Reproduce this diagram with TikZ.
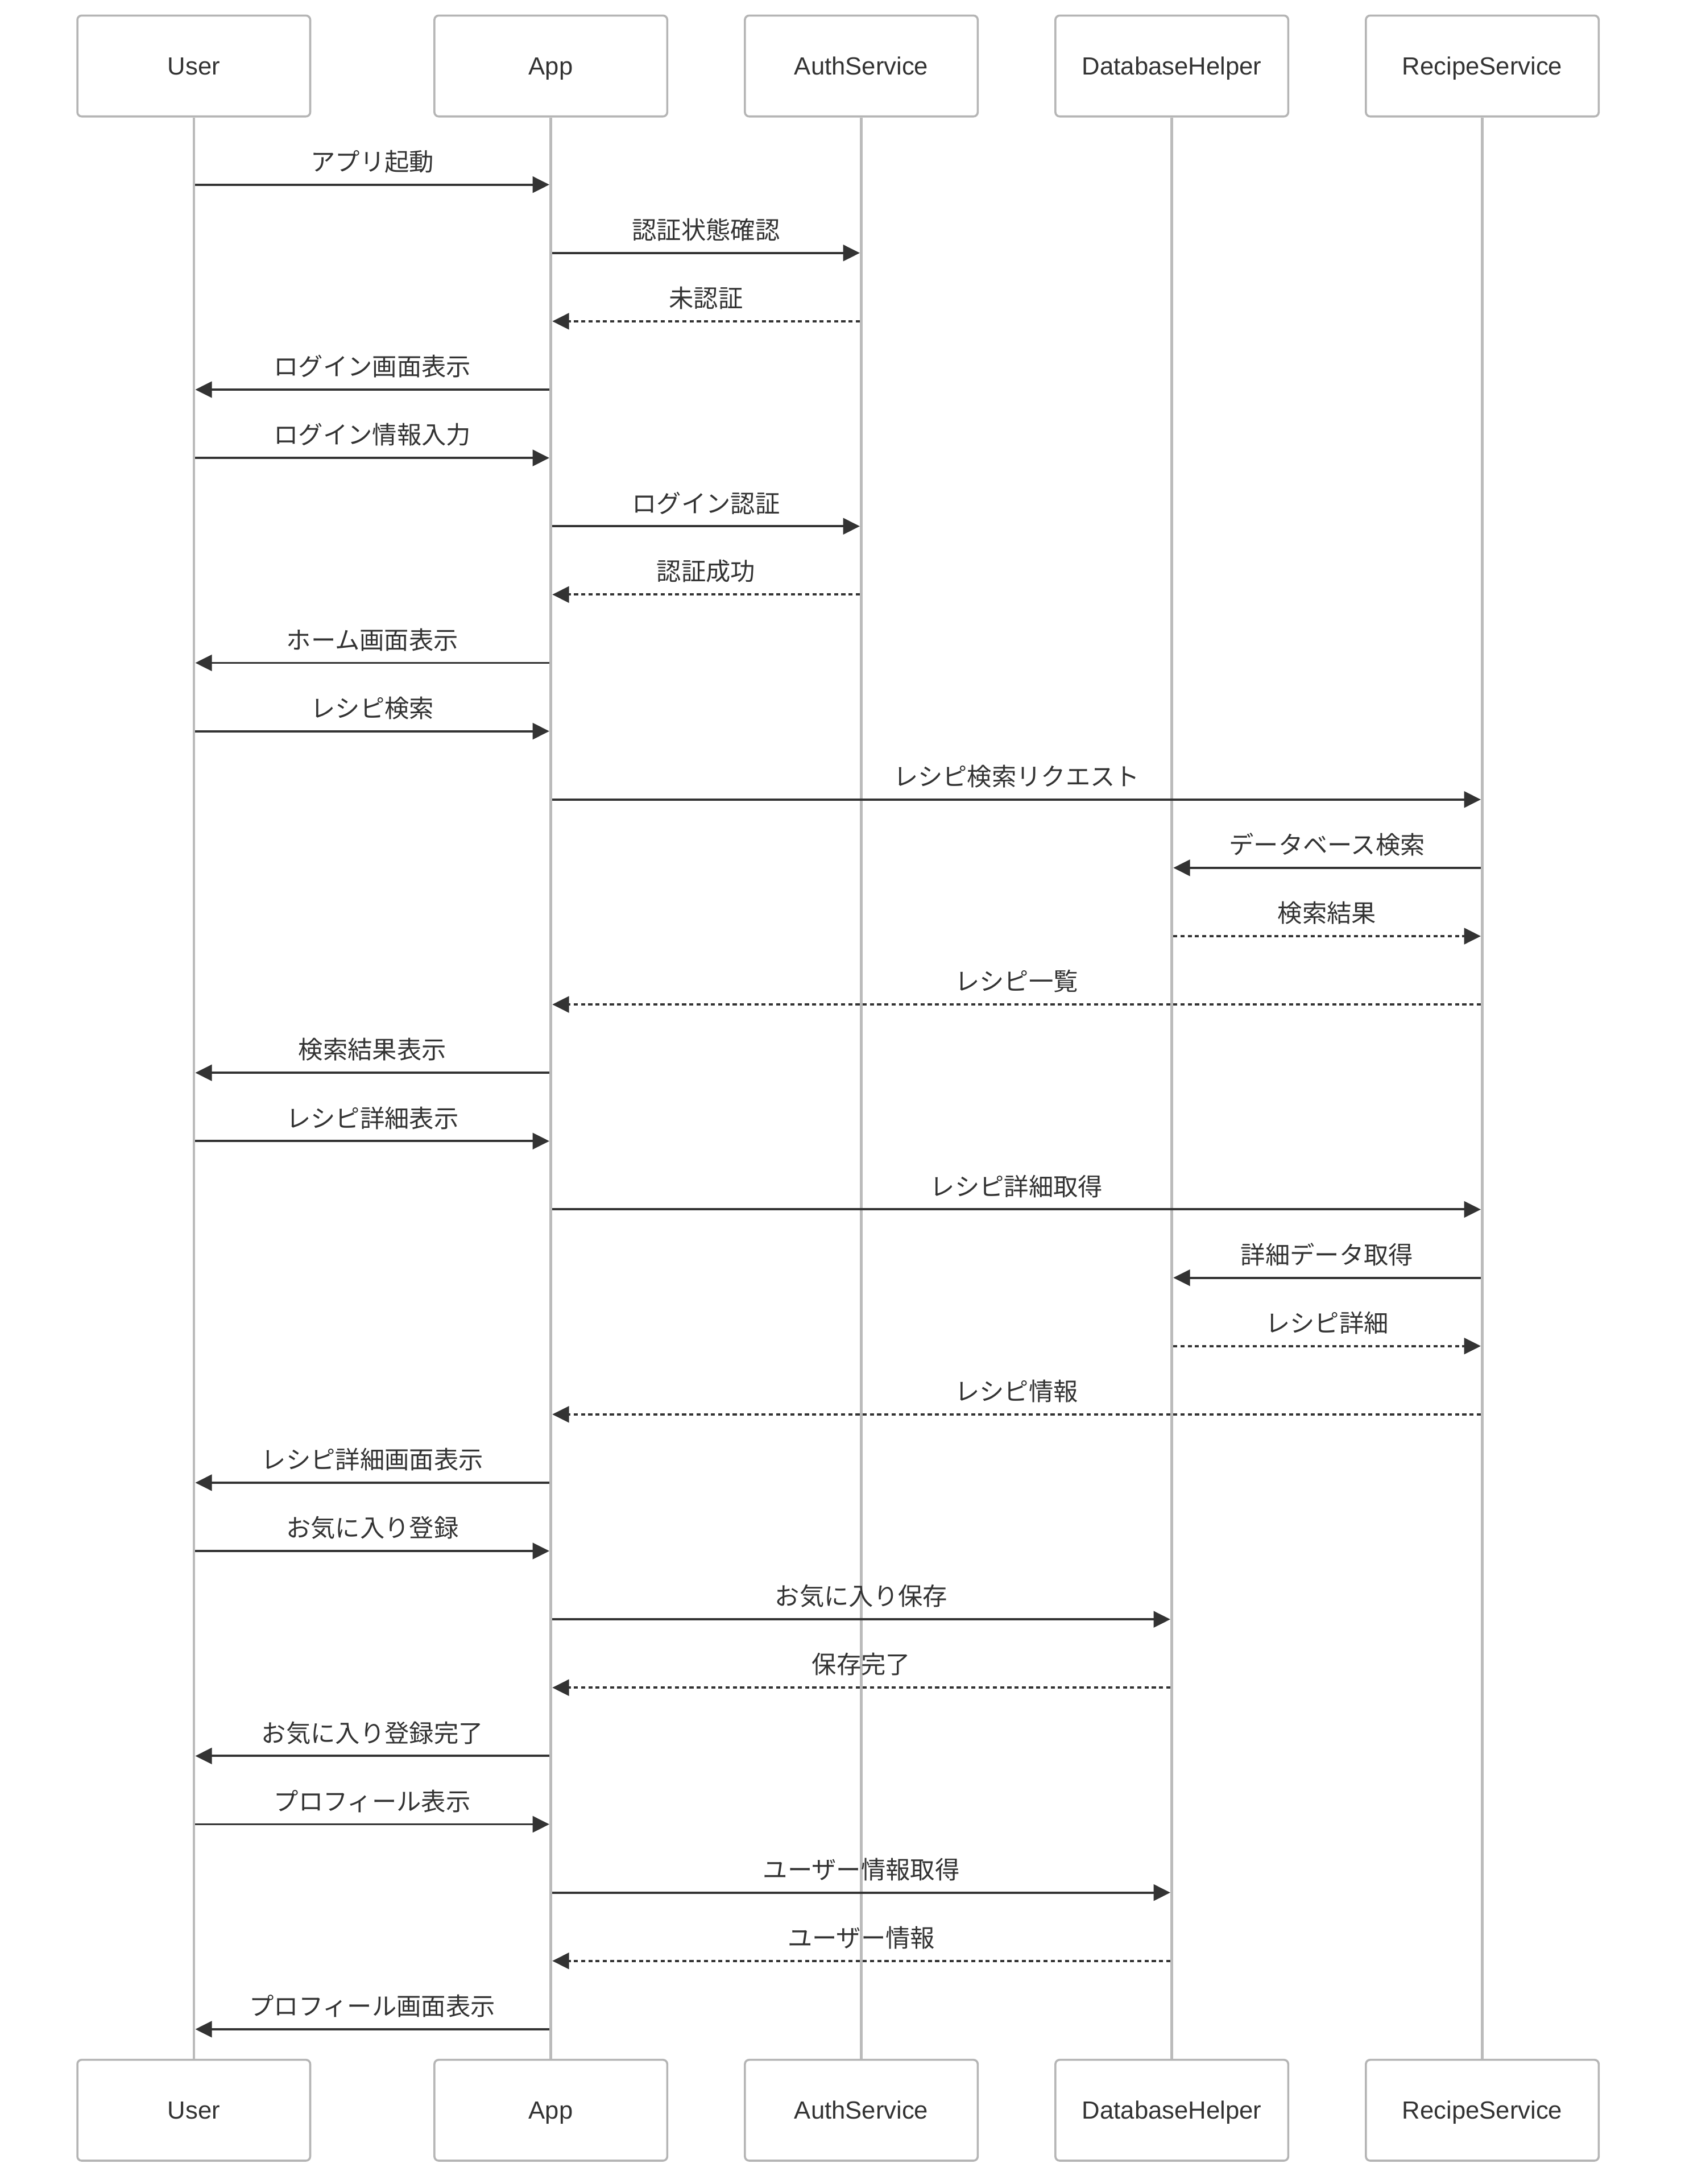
\documentclass[tikz,border=0pt]{standalone}
\usepackage{fontspec}
\setmainfont{Liberation Sans}
\newfontfamily\jpfont{Noto Sans CJK JP}
\usetikzlibrary{arrows.meta}
\definecolor{ink}{HTML}{333333}
\definecolor{boxgray}{HTML}{B5B5B5}
\definecolor{lifegray}{HTML}{BBBBBB}
\begin{document}
\begin{tikzpicture}[x=0.75pt,y=-0.75pt,
  actor/.style={draw=boxgray, line width=1.1pt, fill=white, rounded corners=2.3pt,
    minimum width=125.7pt, minimum height=54.45pt, inner sep=0pt,
    text height=9.6pt, text depth=0pt,
    font=\fontsize{13.4}{16}\selectfont, text=ink},
  life/.style={draw=lifegray, line width=1.4pt},
  msg/.style={draw=ink, line width=1.2pt, shorten <=0.8pt, shorten >=0.8pt,
    -{Triangle[length=9pt,width=8.7pt]}},
  reply/.style={msg, dash pattern=on 2.2pt off 1.7pt},
  lbl/.style={font=\jpfont\fontsize{13.3}{15}\selectfont, text=ink, inner sep=0pt}]
\useasboundingbox (0,0) rectangle (1210,1571.9);
% top actors
\node[actor] (uT) at (139.5,47.5) {User};
\node[actor] (aT) at (396.5,47.5) {App};
\node[actor] (sT) at (620,47.5) {AuthService};
\node[actor] (dT) at (843.5,47.5) {DatabaseHelper};
\node[actor] (rT) at (1067,47.5) {RecipeService};
% bottom actors
\node[actor] (uB) at (139.5,1518.8) {User};
\node[actor] (aB) at (396.5,1518.8) {App};
\node[actor] (sB) at (620,1518.8) {AuthService};
\node[actor] (dB) at (843.5,1518.8) {DatabaseHelper};
\node[actor] (rB) at (1067,1518.8) {RecipeService};
% lifelines
\foreach \n in {u,a,s,d,r}{
  \draw[life] (\n T.south) -- (\n B.north);
}
% messages
\foreach \i/\f/\t/\s/\l in {
  1/u/a/msg/アプリ起動,
  2/a/s/msg/認証状態確認,
  3/s/a/reply/未認証,
  4/a/u/msg/ログイン画面表示,
  5/u/a/msg/ログイン情報入力,
  6/a/s/msg/ログイン認証,
  7/s/a/reply/認証成功,
  8/a/u/msg/ホーム画面表示,
  9/u/a/msg/レシピ検索,
  10/a/r/msg/レシピ検索リクエスト,
  11/r/d/msg/データベース検索,
  12/d/r/reply/検索結果,
  13/r/a/reply/レシピ一覧,
  14/a/u/msg/検索結果表示,
  15/u/a/msg/レシピ詳細表示,
  16/a/r/msg/レシピ詳細取得,
  17/r/d/msg/詳細データ取得,
  18/d/r/reply/レシピ詳細,
  19/r/a/reply/レシピ情報,
  20/a/u/msg/レシピ詳細画面表示,
  21/u/a/msg/お気に入り登録,
  22/a/d/msg/お気に入り保存,
  23/d/a/reply/保存完了,
  24/a/u/msg/お気に入り登録完了,
  25/u/a/msg/プロフィール表示,
  26/a/d/msg/ユーザー情報取得,
  27/d/a/reply/ユーザー情報,
  28/a/u/msg/プロフィール画面表示}{
  \pgfmathsetmacro{\yy}{132.9+49.17*(\i-1)}
  \coordinate (m\i s) at (\f T |- 0,\yy);
  \coordinate (m\i e) at (\t T |- 0,\yy);
  \draw[\s] (m\i s) -- (m\i e) node[lbl, midway, yshift=12.5pt] (t\i) {\l};
}
\end{tikzpicture}
\end{document}
